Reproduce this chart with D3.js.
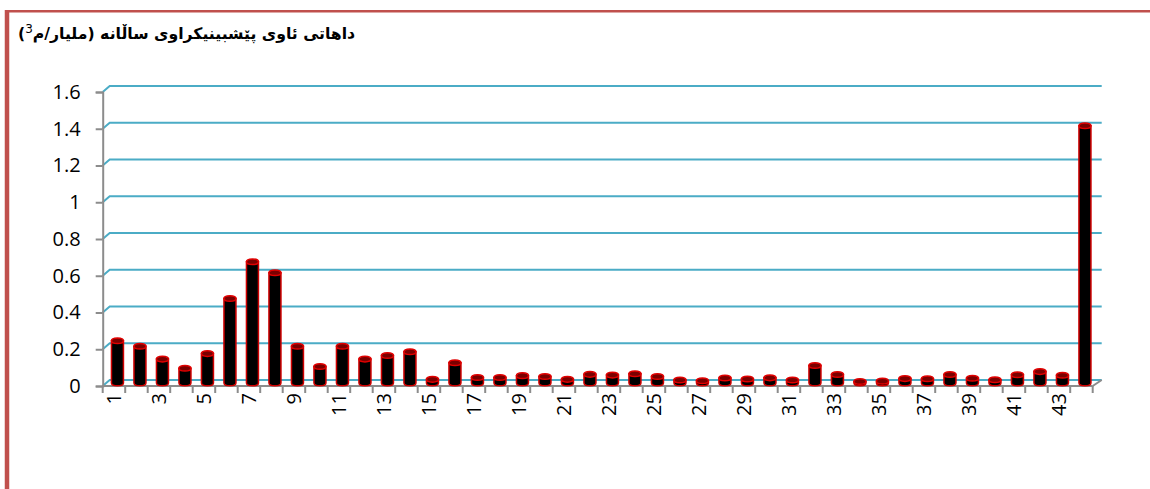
<!DOCTYPE html>
<html>
<head>
<meta charset="utf-8">
<script src="https://cdn.jsdelivr.net/npm/d3@7"></script>
<style>
  body { margin: 0; background: #fff; }
  #chart { position: relative; width: 1150px; height: 489px; overflow: hidden; }
  .title {
    position: absolute; left: 18px; top: 22px;
    direction: rtl; white-space: nowrap;
    font: bold 15.7px "DejaVu Sans", sans-serif; color: #000;
  }
  .title sup { font-size: 12px; font-weight: normal; }
</style>
</head>
<body>
<div id="chart"></div>
<script>
// data
const categories = d3.range(1, 45);
const values = [
  0.23, 0.2, 0.13, 0.08, 0.16, 0.46, 0.66, 0.6, 0.2, 0.09,
  0.2, 0.13, 0.15, 0.17, 0.02, 0.11, 0.03, 0.03, 0.04, 0.035,
  0.02, 0.047, 0.043, 0.05, 0.035, 0.016, 0.012, 0.027, 0.022, 0.028,
  0.016, 0.095, 0.046, 0.008, 0.01, 0.024, 0.023, 0.046, 0.026, 0.018,
  0.045, 0.062, 0.042, 1.4
];
const yTicks = [0, 0.2, 0.4, 0.6, 0.8, 1, 1.2, 1.4, 1.6];
const xLabels = categories.filter(c => c % 2 === 1);
const titleText = "داهاتی ئاوی پێشبینیکراوی ساڵانه (ملیار/م";

const width = 1150, height = 489;
const depth = { dx: 7, dy: -6 };
const gridColor = "#4bacc6";
const axisColor = "#8c8c8c";

const chart = d3.select("#chart");
const svg = chart.append("svg").attr("width", width).attr("height", height);

// frame
svg.append("line").attr("x1", 7).attr("x2", 7).attr("y1", 10).attr("y2", height)
  .attr("stroke", "#c0504d").attr("stroke-width", 4.5);
svg.append("line").attr("x1", 5).attr("x2", width).attr("y1", 11.3).attr("y2", 11.3)
  .attr("stroke", "#c0504d").attr("stroke-width", 2.5);

chart.append("div").attr("class", "title")
  .html(titleText + "<sup>3</sup>)");

const x = d3.scaleBand().domain(categories).range([102.7, 1092.7]);
const y = d3.scaleLinear().domain([0, 1.6]).range([386, 92]);

// gridlines on the back wall
const grid = svg.append("g");
yTicks.forEach(t => {
  grid.append("polyline")
    .attr("points", [
      [x.range()[0], y(t)],
      [x.range()[0] + depth.dx, y(t) + depth.dy],
      [x.range()[1] + depth.dx + 2, y(t) + depth.dy]
    ].join(" "))
    .attr("fill", "none")
    .attr("stroke", gridColor)
    .attr("stroke-width", 2);
});

// floor right edge
svg.append("line")
  .attr("x1", x.range()[1]).attr("y1", y(0))
  .attr("x2", x.range()[1] + depth.dx + 2).attr("y2", y(0) + depth.dy)
  .attr("stroke", axisColor).attr("stroke-width", 2);

// y axis
const yAxis = svg.append("g")
  .attr("transform", `translate(${x.range()[0]},0)`)
  .call(d3.axisLeft(y).tickValues(yTicks).tickSize(7).tickPadding(15)
    .tickFormat(d => String(+d.toFixed(1))));
yAxis.select(".domain").attr("stroke", axisColor).attr("stroke-width", 2);
yAxis.selectAll(".tick line").attr("stroke", axisColor).attr("stroke-width", 2);
yAxis.selectAll("text").attr("font-family", "'Open Sans', sans-serif")
  .attr("font-size", 20).attr("fill", "#000");

// x axis: ticks on band edges, labels on odd categories
const xAxis = svg.append("g").attr("transform", `translate(0,${y(0)})`);
xAxis.append("line")
  .attr("x1", x.range()[0]).attr("x2", x.range()[1])
  .attr("stroke", axisColor).attr("stroke-width", 2);
xAxis.selectAll(".edge")
  .data(categories.concat([null]))
  .join("line")
  .attr("class", "edge")
  .attr("x1", d => d === null ? x.range()[1] : x(d))
  .attr("x2", d => d === null ? x.range()[1] : x(d))
  .attr("y1", 0).attr("y2", 7)
  .attr("stroke", axisColor).attr("stroke-width", 2);
xAxis.selectAll(".xlabel")
  .data(xLabels)
  .join("text")
  .attr("class", "xlabel")
  .attr("transform", d => `translate(${x(d) + x.bandwidth() / 2},7) rotate(-90)`)
  .attr("text-anchor", "end")
  .attr("dy", "0.35em")
  .attr("font-family", "'Open Sans', sans-serif")
  .attr("font-size", 20)
  .text(d => d);

// cylinders
const barW = 12, ry = 2.8;
const bars = svg.append("g")
  .selectAll("g")
  .data(categories.map((c, i) => ({ c, v: values[i] })))
  .join("g")
  .attr("transform", d => `translate(${x(d.c) + x.bandwidth() / 2 + depth.dx / 2},${depth.dy / 2})`);

bars.append("path")
  .attr("d", d => {
    const top = y(d.v), base = y(0), r = barW / 2;
    return `M${-r},${top} L${-r},${base} A${r},${ry} 0 0 0 ${r},${base} L${r},${top} Z`;
  })
  .attr("fill", "#000")
  .attr("stroke", "#d00000")
  .attr("stroke-width", 1.5);

bars.append("ellipse")
  .attr("cx", 0)
  .attr("cy", d => y(d.v))
  .attr("rx", barW / 2)
  .attr("ry", ry)
  .attr("fill", "#7a0000")
  .attr("stroke", "#e00000")
  .attr("stroke-width", 1.5);
</script>
</body>
</html>
